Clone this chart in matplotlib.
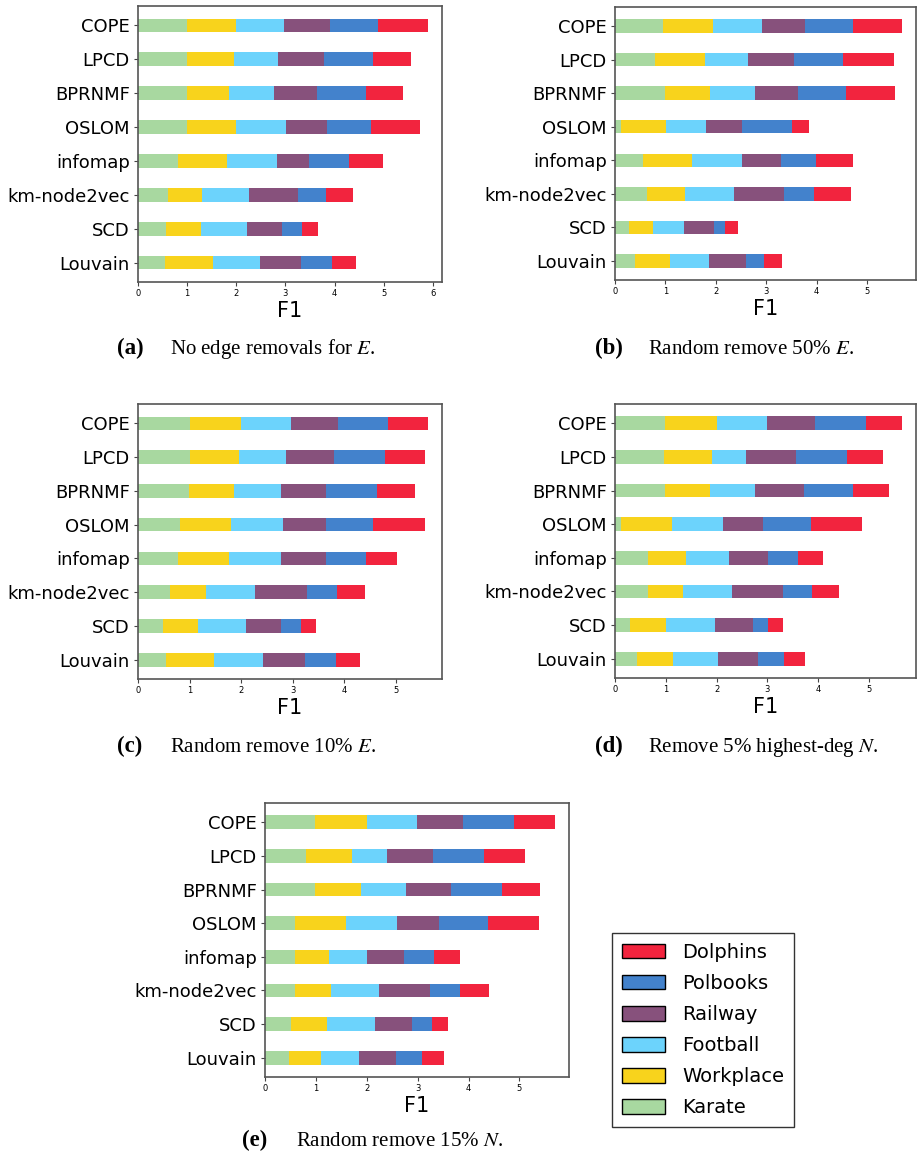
import matplotlib
matplotlib.use('Agg')
import matplotlib.pyplot as plt
from matplotlib.patches import Patch
import numpy as np

methods = ['Louvain', 'SCD', 'km-node2vec', 'infomap', 'OSLOM', 'BPRNMF', 'LPCD', 'COPE']
datasets = ['Karate', 'Workplace', 'Football', 'Railway', 'Polbooks', 'Dolphins']
colors = ['#a8d8a0', '#f8d31c', '#6cd3fc', '#87517c', '#4382cc', '#f2243e']

# F1 per method (rows follow `methods`), columns follow `datasets`
f1_a = [[0.55, 0.98, 0.96, 0.83, 0.62, 0.50],
        [0.57, 0.72, 0.93, 0.70, 0.41, 0.34],
        [0.61, 0.69, 0.96, 1.00, 0.56, 0.56],
        [0.82, 1.00, 1.00, 0.65, 0.82, 0.69],
        [1.00, 0.99, 1.02, 0.83, 0.90, 1.00],
        [0.99, 0.87, 0.91, 0.87, 1.00, 0.75],
        [0.99, 0.96, 0.90, 0.93, 1.00, 0.77],
        [0.99, 1.01, 0.97, 0.94, 0.98, 1.00]]

f1_b = [[0.40, 0.69, 0.78, 0.73, 0.36, 0.36],
        [0.27, 0.49, 0.60, 0.60, 0.23, 0.26],
        [0.64, 0.74, 0.98, 1.00, 0.59, 0.74],
        [0.56, 0.96, 1.01, 0.77, 0.68, 0.75],
        [0.12, 0.90, 0.79, 0.71, 1.00, 0.33],
        [0.99, 0.89, 0.89, 0.87, 0.95, 0.97],
        [0.80, 0.98, 0.86, 0.91, 0.98, 1.01],
        [0.95, 1.00, 0.96, 0.86, 0.96, 0.96]]

f1_c = [[0.54, 0.94, 0.95, 0.82, 0.59, 0.46],
        [0.48, 0.68, 0.93, 0.69, 0.38, 0.30],
        [0.62, 0.70, 0.96, 1.01, 0.57, 0.55],
        [0.77, 0.99, 1.01, 0.87, 0.79, 0.60],
        [0.82, 0.99, 1.01, 0.82, 0.93, 1.00],
        [0.99, 0.87, 0.91, 0.87, 0.99, 0.74],
        [1.00, 0.96, 0.92, 0.92, 1.00, 0.77],
        [1.00, 1.00, 0.97, 0.92, 0.97, 0.76]]

f1_d = [[0.43, 0.72, 0.87, 0.79, 0.52, 0.40],
        [0.30, 0.70, 0.97, 0.75, 0.30, 0.28],
        [0.64, 0.70, 0.97, 1.00, 0.56, 0.53],
        [0.64, 0.75, 0.85, 0.78, 0.59, 0.49],
        [0.12, 1.00, 1.00, 0.80, 0.93, 1.00],
        [0.99, 0.88, 0.89, 0.96, 0.96, 0.71],
        [0.97, 0.94, 0.66, 0.99, 1.00, 0.71],
        [0.99, 1.01, 0.99, 0.94, 1.01, 0.70]]

f1_e = [[0.48, 0.63, 0.74, 0.73, 0.50, 0.43],
        [0.51, 0.71, 0.95, 0.71, 0.41, 0.31],
        [0.58, 0.72, 0.94, 1.00, 0.60, 0.56],
        [0.59, 0.66, 0.75, 0.73, 0.60, 0.51],
        [0.59, 1.00, 1.00, 0.83, 0.97, 1.00],
        [0.99, 0.89, 0.90, 0.88, 1.00, 0.74],
        [0.81, 0.90, 0.68, 0.92, 1.00, 0.79],
        [0.99, 1.01, 0.99, 0.91, 1.00, 0.79]]

captions = ['No edge removals for $E$.', 'Random remove 50% $E$.',
            'Random remove 10% $E$.', 'Remove 5% highest-deg $N$.',
            'Random remove 15% $N$.']
letters = ['(a)', '(b)', '(c)', '(d)', '(e)']

W, H = 917, 1152
plt.rcParams['mathtext.fontset'] = 'stix'
fig = plt.figure(figsize=(W / 100, H / 100), dpi=100)


def px_axes(x0, y0, x1, y1):
    return fig.add_axes([x0 / W, 1 - y1 / H, (x1 - x0) / W, (y1 - y0) / H])


def draw_panel(ax, data):
    data = np.array(data)
    y = np.arange(len(methods))
    left = np.zeros(len(methods))
    for j, name in enumerate(datasets):
        ax.barh(y, data[:, j], left=left, height=0.4, color=colors[j],
                label=name)
        left += data[:, j]
    ax.set_yticks(y)
    ax.set_yticklabels(methods, fontsize=13)
    ax.tick_params(axis='x', labelsize=6, length=3, pad=2, color='#444444')
    ax.tick_params(axis='y', length=3, pad=3, color='#444444')
    ax.set_xlabel('F1', fontsize=15, labelpad=2)
    for s in ax.spines.values():
        s.set_color('#555555')
        s.set_linewidth(1.2)


# (data, pixel box of axes, caption letter x, caption text x, caption baseline y)
panels = [
    (f1_a, (138, 6, 442, 282), 117, 170, 354),
    (f1_b, (615, 7, 916, 280), 595, 648, 354),
    (f1_c, (138, 404, 442, 679), 117, 170, 752),
    (f1_d, (615, 404, 916, 678), 595, 648, 752),
    (f1_e, (265, 803, 569, 1077), 242, 296, 1146),
]

for i, (data, box, lx, tx, ty) in enumerate(panels):
    ax = px_axes(*box)
    draw_panel(ax, data)
    fig.text(lx / W, 1 - ty / H, letters[i], fontsize=16.5, fontweight='bold',
             family='Liberation Serif', va='baseline')
    fig.text(tx / W, 1 - ty / H, captions[i], fontsize=15,
             family='Liberation Serif', va='baseline')

leg_handles = [Patch(facecolor=colors[j], edgecolor='black', linewidth=1.0)
               for j in range(len(datasets))][::-1]
fig.legend(leg_handles, datasets[::-1], loc='upper left',
           bbox_to_anchor=(612 / W, 1 - 933 / H), borderaxespad=0,
           fontsize=14, handlelength=2.2, handleheight=0.8,
           handletextpad=0.9, labelspacing=0.62, borderpad=0.5,
           fancybox=False, edgecolor='#333333', framealpha=1)

fig.savefig('out.png', dpi=100)
